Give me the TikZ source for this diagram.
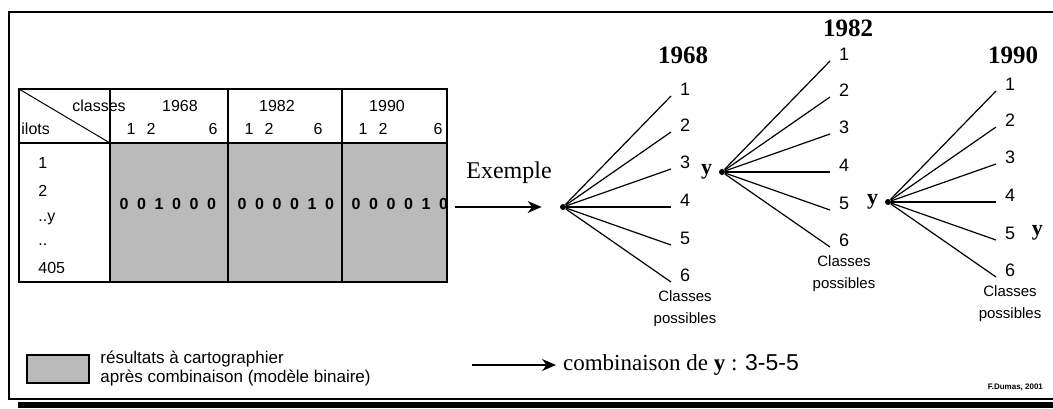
\documentclass[tikz,border=0pt]{standalone}
\usepackage{fontspec}
\setmainfont{Liberation Serif}
\setsansfont{Liberation Sans}
\usetikzlibrary{arrows.meta,positioning}
\tikzset{
  cellfill/.style={fill=black!27},
  tabline/.style={line width=1pt},
  tabtext/.style={font=\sffamily\fontsize{8}{8}\selectfont, inner sep=0pt},
  bittext/.style={font=\sffamily\bfseries\fontsize{8}{8}\selectfont, inner sep=0pt},
  numlabel/.style={font=\sffamily\fontsize{9}{9}\selectfont, inner sep=1pt},
  yearlabel/.style={font=\bfseries\fontsize{12.5}{12.5}\selectfont, inner sep=0pt},
  branch/.style={line width=0.6pt},
  rootdot/.style={circle, fill=black, inner sep=0pt, minimum size=3pt},
  possnote/.style={font=\sffamily\fontsize{7.5}{11}\selectfont, align=center, inner sep=0pt},
  ysym/.style={font=\bfseries\fontsize{11}{11}\selectfont, inner sep=0pt},
  bigarrow/.style={line width=0.7pt, -{Stealth[length=7pt,width=6pt]}},
  legendtext/.style={font=\sffamily\fontsize{8.5}{9.5}\selectfont, align=left, inner sep=0pt}
}

\begin{document}
\begin{tikzpicture}[x=0.5pt,y=-0.5pt,>=Stealth]
  \useasboundingbox (0,0) rectangle (1053,408);

  % frame and shadow
  \fill[black] (18,401.5) rectangle (1053,408);
  \draw[line width=0.8pt] (1053,12) -- (9,12) -- (9,399) -- (1053,399);

  % table
  \fill[cellfill] (110,143) rectangle (447,282);
  \draw[tabline] (19,89) rectangle (447,282);
  \draw[tabline] (19,143) -- (447,143);
  \foreach \xv in {110,228,342}
    \draw[tabline] (\xv,89) -- (\xv,282);
  \draw[line width=0.5pt] (19,89) -- (110,143);
  \node[tabtext] (classes) at (99,106) {classes};
  \node[tabtext, anchor=west] (ilots) at (21,129) {ilots};
  \foreach \c/\l/\yx/\sx in {1/110/180/213, 2/228/277/318, 3/342/387/438}{
    \node[tabtext] (year\c) at (\yx,106) {\ifcase\c\or 1968\or 1982\or 1990\fi};
    \node[tabtext] (one\c) at (\l+21,129) {1};
    \node[tabtext] (two\c) at (\l+41,129) {2};
    \node[tabtext] (six\c) at (\sx,129) {6};
  }
  \foreach \r/\ry/\txt in {1/163/1, 2/191/2, 3/219/..y, 4/245/.., 5/268/405}
    \node[tabtext, anchor=west] (row\r) at (38,\ry) {\txt};
  \foreach \c/\l/\bits in {1/110/{0,0,1,0,0,0}, 2/228/{0,0,0,0,1,0}, 3/342/{0,0,0,0,1,0}}{
    \foreach \b [count=\i] in \bits
      \node[bittext] (bit\c-\i) at ({\l+14+(\i-1)*17.5},204) {\b};
  }

  % arrow to the example
  \coordinate (tab-out) at (455,207);
  \node[font=\fontsize{12}{12}\selectfont] (exemple) at (509,173) {Exemple};

  % trees
  \foreach \t/\rx/\ry in {a/563/207, b/722/172, c/888/202}{
    \node[rootdot] (\t-root) at (\rx,\ry) {};
    \foreach \k/\dy in {1/-111, 2/-75, 3/-38, 4/0, 5/38, 6/75}{
      \coordinate (\t-end\k) at (\rx+108,\ry+\dy);
      \draw[branch] (\t-root) -- (\t-end\k);
      \node[numlabel] (\t-num\k) at (\rx+122,\ry+\dy-7) {\k};
    }
    \node[possnote, below=3pt of \t-num6] (\t-poss) {Classes\\possibles};
  }
  \draw[bigarrow, shorten >=9pt] (tab-out) -- (a-root);

  \node[yearlabel] (yr-a) at (683,55) {1968};
  \node[yearlabel] (yr-b) at (848,28) {1982};
  \node[yearlabel] (yr-c) at (1013,55) {1990};

  \node[ysym, left=3pt of b-root] (y-a) {y};
  \node[ysym, left=3pt of c-root] (y-b) {y};
  \node[ysym, right=7pt of c-num5] (y-c) {y};

  % legend
  \filldraw[cellfill, draw=black, line width=0.8pt] (27,355) rectangle (89,383);
  \node[legendtext, anchor=west] (legend) at (100,368)
    {résultats à cartographier\\après combinaison (modèle binaire)};
  \coordinate (comb-in) at (472,365);
  \node[anchor=west, font=\fontsize{11.5}{11.5}\selectfont] (comb) at (556,365)
    {combinaison de \textbf{y} : {\sffamily 3-5-5}};
  \draw[bigarrow] (comb-in) -- (comb.west);
  \node[font=\sffamily\bfseries\fontsize{4}{4}\selectfont, anchor=east] (sign) at (1050,387) {F.Dumas, 2001};
\end{tikzpicture}
\end{document}
